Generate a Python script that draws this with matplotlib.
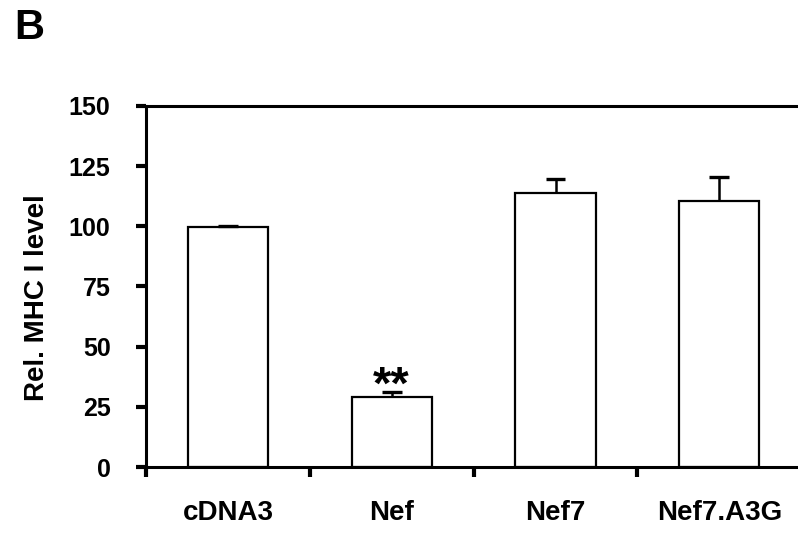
import matplotlib
matplotlib.use("Agg")
import matplotlib.pyplot as plt

categories = ["cDNA3", "Nef", "Nef7", "Nef7.A3G"]
mhc_level = [99.8, 29.3, 113.7, 110.4]
mhc_err = [0.5, 1.8, 6.1, 10.2]
y_ticks = [0, 25, 50, 75, 100, 125, 150]

plt.rcParams["font.family"] = ["Liberation Sans", "DejaVu Sans"]
plt.rcParams["font.weight"] = "bold"

fig = plt.figure(figsize=(7.98, 5.35), dpi=100)
ax = fig.add_axes([0.183, 0.127, 0.821, 0.675])

x = list(range(len(categories)))
ax.bar(x, mhc_level, width=0.49, color="white", edgecolor="black", linewidth=1.6,
       yerr=[[0] * len(mhc_err), mhc_err], capsize=0,
       error_kw={"elinewidth": 1.8, "ecolor": "black"}, zorder=2)
# caps drawn separately so they only sit on top
for xi, v, e in zip(x, mhc_level, mhc_err):
    ax.plot([xi - 0.06, xi + 0.06], [v + e, v + e], color="black", lw=2.4, zorder=3,
            solid_capstyle="butt")

ax.text(1, 28.5, "**", ha="center", va="baseline", fontsize=34, fontweight="bold")

ax.set_xlim(-0.5, 3.5)
ax.set_ylim(0, 150)
ax.set_yticks(y_ticks)
ax.set_xticks([-0.5, 0.5, 1.5, 2.5])
ax.set_xticklabels([])
ax.set_xticks(x, minor=True)
ax.set_xticklabels(categories, minor=True, fontsize=20, fontweight="bold")
ax.tick_params(axis="x", which="minor", length=0, pad=24)
ax.tick_params(axis="x", which="major", direction="out", length=7, width=3)
ax.tick_params(axis="y", direction="out", length=7, width=3, pad=18.5, labelsize=18)
for lab in ax.get_yticklabels():
    lab.set_fontweight("bold")

for side in ["left", "bottom", "top"]:
    ax.spines[side].set_linewidth(2.2)
ax.spines["right"].set_visible(False)

ax.set_ylabel("Rel. MHC I level", fontsize=20, fontweight="bold")
ax.yaxis.set_label_coords(-0.146, 0.47)
fig.text(0.018, 0.985, "B", fontsize=30, fontweight="bold", va="top", ha="left")

fig.savefig("out.png", dpi=100)
